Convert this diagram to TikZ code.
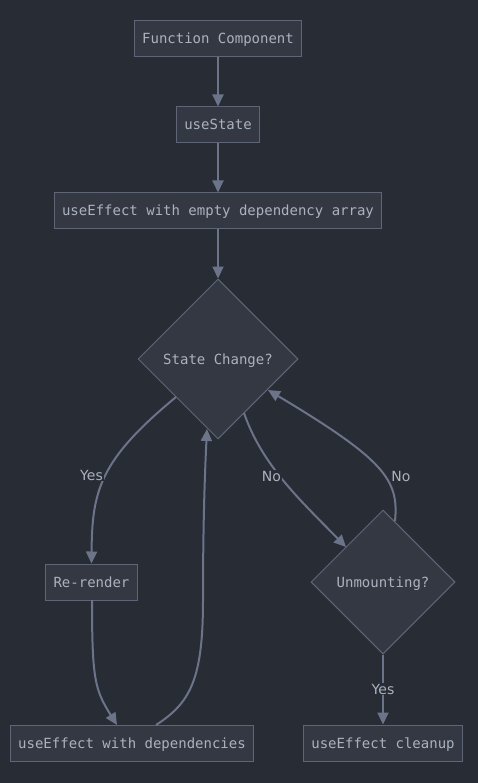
\documentclass[tikz,border=0pt]{standalone}
\usepackage{fontspec}
\setmainfont{DejaVu Sans}
\newfontfamily\monof{DejaVu Sans Mono}
\usetikzlibrary{shapes.geometric,arrows.meta}
\definecolor{bgc}{HTML}{282C34}
\definecolor{nodefill}{HTML}{343843}
\definecolor{nodeborder}{HTML}{5E6576}
\definecolor{txt}{HTML}{ABB2BF}
\definecolor{edgec}{HTML}{6B7489}
\tikzset{
  box/.style={draw=nodeborder, fill=nodefill, line width=1pt, rectangle, minimum height=36pt, inner xsep=8pt, inner ysep=0pt, text height=10pt, text depth=0pt, text=txt, font=\monof\fontsize{14}{16}\selectfont},
  dia/.style={draw=nodeborder, fill=nodefill, line width=1pt, diamond, inner sep=0pt, text height=10pt, text depth=0pt, text=txt, font=\monof\fontsize{14}{16}\selectfont},
  edge/.style={draw=edgec, line width=2pt, -{Triangle[length=12pt,width=11pt]}},
  lbl/.style={fill=bgc, text=txt, inner sep=1pt, font=\fontsize{14}{16}\selectfont}
}
\begin{document}
\begin{tikzpicture}[x=1pt,y=-1pt]
\fill[bgc] (0,0) rectangle (478,783);
\useasboundingbox (0,0) rectangle (478,783);
\node[box, minimum width=166pt] (fc) at (218,39) {Function Component};
\node[box, minimum width=82pt] (us) at (218,125) {useState};
\node[box, minimum width=326pt] (ue) at (218,211) {useEffect with empty dependency array};
\node[dia, minimum width=160pt, minimum height=160pt] (sc) at (218,359) {State Change?};
\node[box, minimum width=91pt] (rr) at (91.5,582) {Re-render};
\node[dia, minimum width=144pt, minimum height=144pt] (um) at (383,582) {Unmounting?};
\node[box, minimum width=242pt] (ud) at (132,743) {useEffect with dependencies};
\node[box, minimum width=158pt] (cl) at (383,743) {useEffect cleanup};

\draw[edge] (fc) -- (us);
\draw[edge] (us) -- (ue);
\draw[edge] (ue) -- (sc);
\draw[edge] (176,397) .. controls (100,460) and (92,490) .. (rr.north);
\draw[edge] (244,413) .. controls (262,465) and (300,500) .. (346,547);
\draw[edge] (395,521) .. controls (399,480) and (385,460) .. (268,390);
\draw[edge] (92,600) .. controls (92,680) and (95,690) .. (117,725);
\draw[edge] (156,725) .. controls (190,703) and (203,680) .. (203,600) .. controls (203,520) and (205,470) .. (207,429);
\draw[edge] (um.south) -- (cl.north);

\node[lbl] (l1) at (91.5,475) {Yes};
\node[lbl] (l2) at (271.5,476) {No};
\node[lbl] (l3) at (401,476) {No};
\node[lbl] (l4) at (383,689) {Yes};
\end{tikzpicture}
\end{document}
